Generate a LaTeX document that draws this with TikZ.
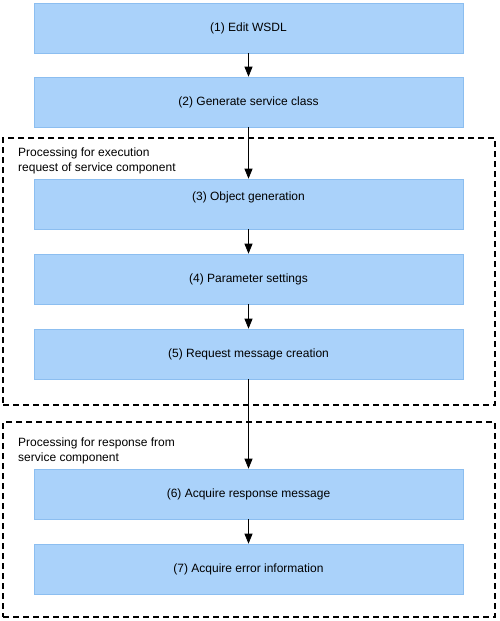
\documentclass[tikz,border=0pt]{standalone}
\usepackage{fontspec}
\setmainfont{Liberation Sans}
\usetikzlibrary{arrows.meta}
\definecolor{boxfill}{RGB}{170,210,250}
\definecolor{boxline}{RGB}{140,190,240}
\begin{document}
\begin{tikzpicture}[x=1pt, y=-1pt,
		step box/.style={draw=boxline, line width=0.6pt, fill=boxfill, rectangle, minimum width=429pt, minimum height=50pt, font=\fontsize{12}{14}\selectfont},
		group box/.style={draw, dashed, line width=1.6pt, dash pattern=on 6pt off 4pt, rectangle, minimum width=492pt},
		group label/.style={anchor=north west, align=left, inner sep=0pt, font=\fontsize{12}{14.5}\selectfont},
		flow/.style={-{Triangle[length=10pt,width=8pt]}, line width=0.8pt}]
				\useasboundingbox (0,0) rectangle (499,621);
				\node[group box, minimum height=267pt] (GA)at(249, 271.5) {};
				\node[group box, minimum height=195pt] (GB)at(249, 519.5) {};
				\node[group label] (LA)at(18, 148) {Processing for execution\\request of service component};
				\node[group label] (LB)at(18, 438) {Processing for response from\\service component};
				\node[step box] (S1)at(248.5, 28) {(1) Edit WSDL};
				\node[step box] (S2)at(248.5, 102) {(2) Generate service class};
				\node[step box] (S3)at(248.5, 204) {\raisebox{7pt}[\height][\depth]{(3) Object generation}};
				\node[step box] (S4)at(248.5, 279) {(4) Parameter settings};
				\node[step box] (S5)at(248.5, 354) {(5) Request message creation};
				\node[step box] (S6)at(248.5, 494) {(6) Acquire response message};
				\node[step box] (S7)at(248.5, 569) {(7) Acquire error information};
				\draw[flow] (S1) -- (S2);
				\draw[flow] (S2) -- (S3);
				\draw[flow] (S3) -- (S4);
				\draw[flow] (S4) -- (S5);
				\draw[flow] (S5) -- (S6);
				\draw[flow] (S6) -- (S7);
			\end{tikzpicture}
\end{document}
